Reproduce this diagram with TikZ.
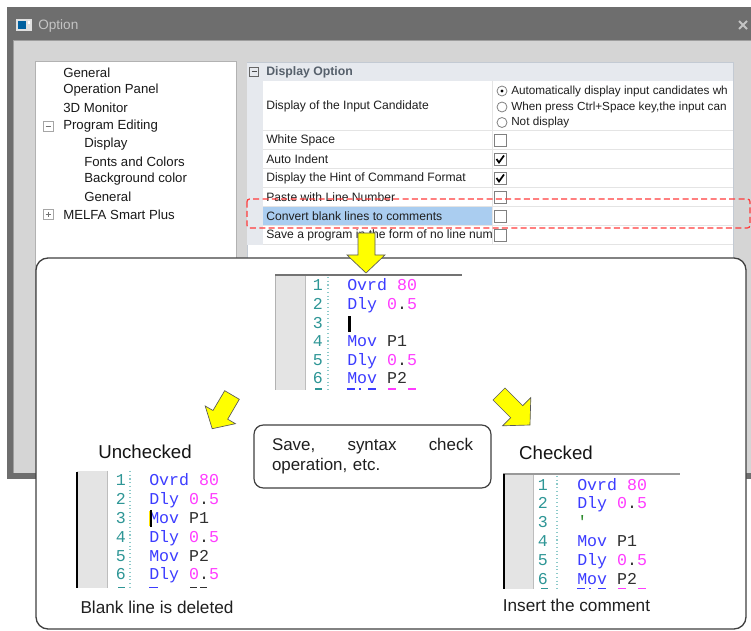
\documentclass[tikz,border=0pt]{standalone}
\usepackage{fontspec}
\setmainfont{Liberation Sans}
\newfontfamily\codefont{Liberation Mono}
\definecolor{winframe}{HTML}{6E6E6E}
\definecolor{winbody}{HTML}{D5D5D5}
\definecolor{titletxt}{HTML}{C4C4C4}
\definecolor{gridline}{HTML}{E4E4E4}
\definecolor{gridbg}{HTML}{E6E9EE}
\definecolor{gridframe}{HTML}{C3CAD3}
\definecolor{hdrtxt}{HTML}{56606B}
\definecolor{selbg}{HTML}{AACDF0}
\definecolor{kwc}{HTML}{3C3CFF}
\definecolor{numc}{HTML}{FF3CFF}
\definecolor{opc}{HTML}{303030}
\definecolor{lnc}{HTML}{2E9696}
\definecolor{dotc}{HTML}{8CCACA}
\definecolor{gutc}{HTML}{E4E4E4}
\definecolor{gutedge}{HTML}{BDBDBD}
\definecolor{cmtc}{HTML}{2A8A2A}
\definecolor{redd}{HTML}{FF3B3B}
\definecolor{yel}{HTML}{FFFF00}
\definecolor{calloutc}{HTML}{3F3F3F}
\newcommand\kw[1]{\textcolor{kwc}{#1}}
\newcommand\nm[1]{\textcolor{numc}{#1}}
\newcommand\op[1]{\textcolor{opc}{#1}}
\newcommand\dlyline{\kw{Dly} \nm{0}\op{.}\nm{5}}
\begin{document}
\begin{tikzpicture}[x=0.75pt,y=-0.75pt,
  treetxt/.style={anchor=west,inner sep=0pt,font=\fontsize{9.9}{12}\selectfont,text=black!90},
  gridtxt/.style={anchor=west,inner sep=0pt,font=\fontsize{9.1}{11}\selectfont,text=black!88},
  radtxt/.style={anchor=west,inner sep=0pt,font=\fontsize{8.8}{11}\selectfont,text=black!88},
  codetxt/.style={anchor=base west,inner sep=0pt,font=\codefont\fontsize{12.45}{14}\selectfont},
  lntxt/.style={anchor=base east,inner sep=0pt,font=\codefont\fontsize{12.45}{14}\selectfont,text=lnc},
  bigl/.style={inner sep=0pt,font=\fontsize{14}{16}\selectfont,text=black!92},
  capl/.style={inner sep=0pt,font=\fontsize{12.9}{15}\selectfont,text=black!88},
  chkbox/.style={draw=black!50,fill=white,line width=0.6pt},
  tick/.style={draw=black,line width=1.3pt},
  radio/.style={draw=black!50,fill=white,line width=0.6pt},
  pmbox/.style={draw=black!35,fill=white,line width=0.6pt},
  yarrow/.style={fill=yel,draw=black!65,line width=0.5pt,line join=miter},
  codegut/.style={fill=gutc},
  dotl/.style={draw=dotc,dotted,line width=0.8pt},
  ]
\useasboundingbox (0,0) rectangle (751,631);
\fill[white] (0,0) rectangle (751,631);
% ---------- window ----------
\fill[winframe] (7,7) rectangle (760,479);
\fill[winbody] (13,40) rectangle (760,473);
\draw[black!38,line width=0.75pt] (13.5,473) -- (13.5,40.5) -- (760,40.5);
\fill[black!12] (16,19) rectangle (32,31);
\fill[teal!75!blue] (18,21) rectangle (26,29);
\fill[white] (28,21) rectangle (30,24);
\node[anchor=west,inner sep=0pt,font=\fontsize{10.2}{12}\selectfont,text=titletxt] (title) at (38,26) {Option};
\draw[titletxt,line width=1.5pt] (739,21) -- (747,29) (747,21) -- (739,29);
% ---------- tree ----------
\filldraw[fill=white,draw=black!30,line width=0.75pt] (35,62) rectangle (236,320);
\node[treetxt] (t1) at (63,73) {General};
\node[treetxt] (t2) at (63,90.5) {Operation Panel};
\node[treetxt] (t3) at (63,108) {3D Monitor};
\node[treetxt] (t4) at (63,126) {Program Editing};
\node[treetxt] (t5) at (84,144) {Display};
\node[treetxt] (t6) at (84,161.5) {Fonts and Colors};
\node[treetxt] (t7) at (84,179) {Background color};
\node[treetxt] (t8) at (84,197) {General};
\node[treetxt] (t9) at (63,214.5) {MELFA Smart Plus};
\draw[pmbox] (43,121) rectangle (53,131);
\draw[black!55,line width=0.6pt] (45.5,126) -- (50.5,126);
\draw[pmbox] (43,209.5) rectangle (53,219.5);
\draw[black!55,line width=0.6pt] (45.5,214.5) -- (50.5,214.5) (48,212) -- (48,217);
% ---------- property grid ----------
\filldraw[fill=white,draw=gridframe,line width=0.75pt] (247,63) rectangle (733,320);
\fill[gridbg] (247.4,63.4) rectangle (732.6,81);
\fill[gridbg] (247.4,81) rectangle (263,245);
\fill[selbg] (263,207) rectangle (492,226);
\foreach \yy in {131,150,169,188,207,226,245}{
  \draw[gridline,line width=0.75pt] (263,\yy) -- (732.6,\yy);
}
\draw[gridline,line width=0.75pt] (492,81) -- (492,245);
\draw[black!60,line width=0.6pt] (249.5,67) rectangle (258.5,76);
\draw[black!70,line width=0.7pt] (251.5,71.5) -- (256.5,71.5);
\node[anchor=west,inner sep=0pt,font=\bfseries\fontsize{9.2}{11}\selectfont,text=hdrtxt] (hdr) at (266,72) {Display Option};
\node[gridtxt] (g1) at (266,106) {Display of the Input Candidate};
\node[gridtxt] (g2) at (266,140.5) {White Space};
\node[gridtxt] (g3) at (266,159.5) {Auto Indent};
\node[gridtxt] (g4) at (266,178.5) {Display the Hint of Command Format};
\node[gridtxt] (g5) at (266,197.5) {Paste with Line Number};
\node[gridtxt] (g6) at (266,216.5) {Convert blank lines to comments};
\node[gridtxt] (g7) at (266,235.5) {Save a program in the form of no line num};
\draw[radio] (502,91) circle (5);
\fill[black] (502,91) circle (1.6);
\draw[radio] (502,107) circle (5);
\draw[radio] (502,122.5) circle (5);
\node[radtxt] (r1) at (511,91.5) {Automatically display input candidates wh};
\node[radtxt] (r2) at (511,107) {When press Ctrl+Space key,the input can};
\node[radtxt] (r3) at (511,122.5) {Not display};
\foreach \yy in {140.5,159.5,178.5,197.5,216.5,235.5}{
  \draw[chkbox] (494,\yy-6) rectangle (506,\yy+6);
}
\draw[tick] (496.5,159) -- (499,162.5) -- (504,155.5);
\draw[tick] (496.5,178) -- (499,181.5) -- (504,174.5);
% red dashed highlight
\draw[redd,dash pattern=on 4.5pt off 2.5pt,line width=0.9pt,rounded corners=2pt] (247,199) rectangle (750,228);
% ---------- callout ----------
\filldraw[fill=white,draw=calloutc,line width=1pt,rounded corners=9pt] (36,258) rectangle (746,629);
% ---------- top snippet ----------
\fill[codegut] (275,275) rectangle (305,390);
\draw[gutedge,line width=0.75pt] (305,275) -- (305,390);
\draw[black!30,line width=0.75pt] (275.5,275) -- (275.5,390);
\draw[dotl] (328,277) -- (328,390);
\foreach \n/\c in {1/{\kw{Ovrd} \nm{80}},2/{\dlyline},3/{},4/{\kw{Mov} \op{P1}},5/{\dlyline},6/{\kw{Mov} \op{P2}}}{
  \pgfmathsetmacro\yy{285+(\n-1)*18.6+6}
  \node[lntxt] (tn\n) at (323,\yy) {\n};
  \node[codetxt] (tc\n) at (347,\yy) {\c};
}
\fill[lnc] (315,388.5) rectangle (322,390);
\fill[kwc] (347,388.5) rectangle (355,390);
\fill[kwc] (359,388.5) rectangle (361,390);
\fill[kwc] (368,388.5) rectangle (376,390);
\fill[numc] (388,388.5) rectangle (396,390);
\fill[numc] (408,388.5) rectangle (416,390);
\draw[black!55,line width=1.1pt] (275,275) -- (462,275);
\fill[black] (348,316) rectangle (351,332);
% ---------- left snippet ----------
\fill[codegut] (77,471) rectangle (107,588);
\draw[gutedge,line width=0.75pt] (107,471) -- (107,588);
\draw[dotl] (130,471) -- (130,588);
\foreach \n/\c in {1/{\kw{Ovrd} \nm{80}},2/{\dlyline},3/{\kw{Mov} \op{P1}},4/{\dlyline},5/{\kw{Mov} \op{P2}},6/{\dlyline}}{
  \pgfmathsetmacro\yy{480+(\n-1)*18.8+6}
  \node[lntxt] (ln\n) at (126,\yy) {\n};
  \node[codetxt] (lc\n) at (149,\yy) {\c};
}
\fill[lnc] (118,586.5) rectangle (125,588);
\fill[kwc] (149,586.5) rectangle (158,588);
\fill[opc] (190,586.5) rectangle (197,588);
\fill[opc] (200,586.5) rectangle (207,588);
\draw[black,line width=1.5pt] (77,472) -- (77,588);
\fill[yellow!85!orange] (148.5,511) rectangle (151,526);
\draw[black,line width=0.9pt] (151,510) -- (151,527);
% ---------- right snippet ----------
\fill[codegut] (505,474) rectangle (533,589);
\draw[gutedge,line width=0.75pt] (533,474) -- (533,589);
\draw[dotl] (557,476) -- (557,589);
\foreach \n/\c in {1/{\kw{Ovrd} \nm{80}},2/{\dlyline},3/{\textcolor{cmtc}{'}},4/{\kw{Mov} \op{P1}},5/{\dlyline},6/{\kw{Mov} \op{P2}}}{
  \pgfmathsetmacro\yy{484+(\n-1)*18.8+6}
  \node[lntxt] (rn\n) at (548,\yy) {\n};
  \node[codetxt] (rc\n) at (577,\yy) {\c};
}
\fill[lnc] (541,587.5) rectangle (548,589);
\fill[kwc] (577,587.5) rectangle (585,589);
\fill[kwc] (589,587.5) rectangle (591,589);
\fill[kwc] (598,587.5) rectangle (606,589);
\fill[numc] (618,587.5) rectangle (626,589);
\fill[numc] (638,587.5) rectangle (646,589);
\draw[black!40,line width=1.1pt] (503,474) -- (680,474);
\draw[black,line width=1.5pt] (504,474) -- (504,589);
% ---------- labels ----------
\node[bigl] (unchk) at (145,452) {Unchecked};
\node[bigl] (chk) at (556,453) {Checked};
\node[capl] (blank) at (157,607) {Blank line is deleted};
\node[capl] (insert) at (576.5,605) {Insert the comment};
\node[draw=calloutc,line width=0.9pt,rounded corners=7pt,minimum width=177.75pt,minimum height=47.25pt,
      text width=150.75pt,inner xsep=13.5pt,align=left,font=\fontsize{12.7}{15}\selectfont,text=black!88]
      (savebox) at (372.5,456.5) {\hbox to 150.75pt{Save,\hfill syntax\hfill check}\\operation, etc.};
% ---------- yellow arrows ----------
\filldraw[yarrow] (358,233) -- (375,233) -- (375,255) -- (385,255) -- (366,273) -- (347,255) -- (358,255) -- cycle;
\filldraw[yarrow] (224.7,390.7) -- (213.0,410.5) -- (205.2,406.0) -- (212.2,428.7) -- (235.4,423.7) -- (227.7,419.2) -- (239.3,399.3) -- cycle;
\filldraw[yarrow] (505,388) -- (522.7,405.7) -- (530.8,397.6) -- (530,425) -- (502.6,425.8) -- (510.7,417.7) -- (493,400) -- cycle;
\end{tikzpicture}
\end{document}
